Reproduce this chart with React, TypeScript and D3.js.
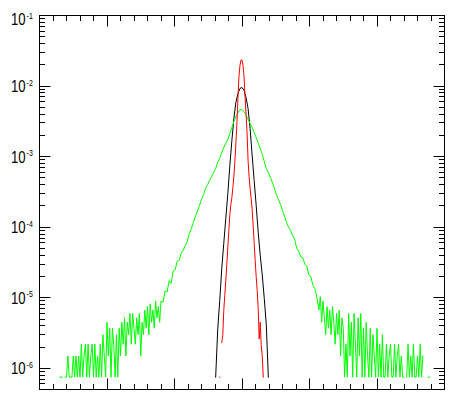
import React from "react";
import * as d3 from "d3";

const W = 463;
const H = 405;
const plotLeft = 39.5;
const plotRight = 444.5;
const plotTop = 15.5;
const plotBottom = 389.5;

const xDomain: [number, number] = [-3, 3];
const yDomain: [number, number] = [Math.pow(10, -6.3), 0.1];
const yDecades = [-6, -5, -4, -3, -2, -1];
const yDecadeLabels = ["-6", "-5", "-4", "-3", "-2", "-1"];

// Green series (widest distribution): left tail, core, right tail
const greenLeftStart = -2.7;
const greenTailStep = 0.02;
const greenLeftTail: (number | null)[] = [
  7.5e-7, 7.5e-7, 7.5e-7, null, 7.5e-7, 7.5e-7, 1.5e-6, 7.5e-7, 7.5e-7, 7.5e-7,
  1.5e-6, 7.5e-7, 1.5e-6, 7.5e-7, 1.5e-6, 7.5e-7, 2.2e-6, 7.5e-7, 1.5e-6, 2.2e-6,
  7.5e-7, 2.2e-6, 7.5e-7, 1.5e-6, 2.2e-6, 7.5e-7, 2.2e-6, 7.5e-7, 1.5e-6, 7.5e-7,
  2.2e-6, 7.5e-7, 3e-6, 1.5e-6, 7.5e-7, 4.5e-6, 1.5e-6, 3.7e-6, 7.5e-7, 3.7e-6,
  2.2e-6, 7.5e-7, 3e-6, 7.5e-7, 3.7e-6, 1.5e-6, 4.5e-6, 2.2e-6, 5.2e-6, 1.5e-6,
  4.5e-6, 3e-6, 6e-6, 2.2e-6, 6e-6, 3.7e-6, 2.2e-6, 5.2e-6, 3e-6, 6e-6,
  1.5e-6, 4.5e-6, 3e-6, 6.7e-6, 3.7e-6, 7.5e-6, 3e-6, 8.2e-6, 4.5e-6, 6.7e-6,
  3.7e-6, 9e-6, 5.2e-6, 7.5e-6, 4.5e-6, 9e-6,
];

const greenCoreStart = -1.17;
const greenCoreStep = 0.03;
const greenCore: number[] = [
  8.6e-6, 1.25e-5, 1.2e-5, 1.75e-5, 1.6e-5, 2.4e-5, 2.5e-5, 3.3e-5, 3.4e-5, 4.3e-5,
  4.7e-5, 5.5e-5, 6.3e-5, 8.1e-5, 9.6e-5, 1.17e-4, 1.42e-4, 1.7e-4, 2.04e-4, 2.46e-4,
  2.9e-4, 3.55e-4, 4.0e-4, 4.6e-4, 5.2e-4, 6.0e-4, 6.8e-4, 8.3e-4, 9.4e-4, 1.15e-3,
  1.35e-3, 1.55e-3, 1.75e-3, 2.13e-3, 2.6e-3, 3.15e-3, 3.7e-3, 4.2e-3, 4.65e-3,
  4.6e-3, 4.35e-3, 3.85e-3, 3.38e-3, 2.95e-3, 2.6e-3, 2.2e-3, 1.87e-3, 1.55e-3, 1.31e-3,
  1.08e-3, 8.5e-4, 6.8e-4, 6.0e-4, 5.1e-4, 4.3e-4, 3.55e-4, 2.9e-4, 2.46e-4, 2.1e-4,
  1.73e-4, 1.42e-4, 1.17e-4, 1.0e-4, 9.0e-5, 7.6e-5, 6.8e-5, 5.0e-5, 4.6e-5, 3.8e-5,
  3.7e-5, 3.0e-5, 2.8e-5, 2.1e-5, 2.0e-5, 1.5e-5, 1.35e-5, 1.0e-5,
];

const greenRightStart = 1.14;
const greenRightTail: (number | null)[] = [
  6.7e-6, 1.04e-5, 4.5e-6, 9e-6, 5.2e-6, 3e-6, 7.5e-6, 3.7e-6, 6.7e-6, 3e-6,
  7.5e-6, 4.5e-6, 2.2e-6, 6e-6, 3e-6, 6.7e-6, 1.5e-6, 5.2e-6, 3.7e-6, 7.5e-7,
  2.2e-6, 7.5e-7, 6e-6, 1.5e-6, 4.5e-6, 7.5e-7, 6e-6, 2.2e-6, 7.5e-7, 5.2e-6,
  1.5e-6, 6e-6, 7.5e-7, 3.7e-6, 7.5e-7, 4.5e-6, 1.5e-6, 7.5e-7, 3.7e-6, 7.5e-7,
  3e-6, 1.5e-6, 7.5e-7, 3.7e-6, 7.5e-7, 2.2e-6, 7.5e-7, 3e-6, 7.5e-7, 7.5e-7,
  2.2e-6, 7.5e-7, 1.5e-6, 2.2e-6, 7.5e-7, 7.5e-7, 2.2e-6, 7.5e-7, 1.5e-6, 2.2e-6,
  7.5e-7, 1.5e-6, 7.5e-7, 7.5e-7, null, 7.5e-7, 2.2e-6, 7.5e-7, 1.5e-6, 7.5e-7,
  2.2e-6, 7.5e-7, 7.5e-7, 1.5e-6, 7.5e-7, 2.2e-6, 7.5e-7, 1.5e-6, null, null,
  null, 7.5e-7, 7.5e-7, null, null,
];

// Black series
const blackStart = -0.39;
const blackStep = 0.03;
const blackValues: (number | null)[] = [
  7.5e-7, 3.5e-6, 9.1e-6, 2.6e-5, 5.9e-5, 1.33e-4, 3.0e-4, 7.5e-4, 1.7e-3, 3.5e-3,
  5.9e-3, 7.85e-3, 9.25e-3, 9.55e-3, 8.7e-3, 6.9e-3, 4.8e-3, 2.5e-3, 1.05e-3, 4.6e-4,
  2.04e-4, 8.5e-5, 4.0e-5, 2.1e-5, 9.8e-6, 4.1e-6, 7.5e-7,
];

// Red series (narrowest distribution)
const redStart = -0.33;
const redStep = 0.015;
const redValues: (number | null)[] = [
  7.5e-7, null, 2.33e-6, 2.9e-6, 6.6e-6, 1.08e-5, 1.76e-5, 2.97e-5, 5.2e-5, 9.0e-5,
  1.51e-4, 2.1e-4, 2.64e-4, 3.66e-4, 5.25e-4, 8.8e-4, 1.59e-3, 3.05e-3, 6.67e-3, 1.37e-2,
  1.96e-2, 2.34e-2, 2.34e-2, 1.96e-2, 1.37e-2, 7.1e-3, 3.96e-3, 2.2e-3, 8.8e-4, 5.25e-4,
  3.55e-4, 2.57e-4, 1.79e-4, 1.07e-4, 6.1e-5, 3.39e-5, 2.0e-5, 1.27e-5, 7.1e-6, 2.6e-6,
  4.5e-6, 2.1e-6, 1.5e-6, 7.5e-7,
];

type Pt = { x: number; v: number | null };

function toPoints(start: number, step: number, vals: (number | null)[]): Pt[] {
  return vals.map((v, i) => ({ x: start + i * step, v }));
}

export default function App() {
  const x = d3.scaleLinear().domain(xDomain).range([plotLeft, plotRight]);
  const y = d3.scaleLog().domain(yDomain).range([plotBottom, plotTop]);

  const line = d3
    .line<Pt>()
    .defined((d) => d.v != null && (d.v as number) > 0)
    .x((d) => x(d.x))
    .y((d) => y(d.v as number));

  const greenPts = [
    ...toPoints(greenLeftStart, greenTailStep, greenLeftTail),
    ...toPoints(greenCoreStart, greenCoreStep, greenCore),
    ...toPoints(greenRightStart, greenTailStep, greenRightTail),
  ];

  const series = [
    { name: "black", color: "#000000", pts: toPoints(blackStart, blackStep, blackValues) },
    { name: "green", color: "#00ff00", pts: greenPts },
    { name: "red", color: "#ff0000", pts: toPoints(redStart, redStep, redValues) },
  ];

  const xMajor = d3.range(xDomain[0], xDomain[1] + 0.001, 1);
  const xMinor = d3
    .range(0, 31)
    .map((k) => xDomain[0] + k * 0.2)
    .filter((v) => Math.abs(v - Math.round(v)) > 1e-6);

  const yMinor: number[] = [];
  for (let e = -7; e <= -2; e++) {
    for (let k = 2; k <= 9; k++) {
      const v = k * Math.pow(10, e);
      if (v >= yDomain[0] && v <= yDomain[1]) yMinor.push(v);
    }
  }

  const snap = (v: number) => Math.round(v - 0.5) + 0.5;
  const majLen = 11;
  const minLen = 5.5;
  const fontFamily = "'Liberation Sans', Arial, Helvetica, sans-serif";

  return (
    <svg
      width={W}
      height={H}
      viewBox={`0 0 ${W} ${H}`}
      style={{ position: "absolute", left: 0, top: 0, background: "#fff" }}
    >
      <rect x={0} y={0} width={W} height={H} fill="#ffffff" />
      <defs>
        <clipPath id="plotclip">
          <rect x={plotLeft} y={plotTop} width={plotRight - plotLeft} height={plotBottom - plotTop} />
        </clipPath>
      </defs>
      <g clipPath="url(#plotclip)">
        {series.map((s) => (
          <path
            key={s.name}
            d={line(s.pts) || ""}
            fill="none"
            stroke={s.color}
            strokeWidth={1}
            strokeLinecap="square"
            strokeLinejoin="miter"
          />
        ))}
      </g>
      <g stroke="#000" strokeWidth={1} fill="none">
        <rect x={plotLeft} y={plotTop} width={plotRight - plotLeft} height={plotBottom - plotTop} />
        {xMajor.map((v) => {
          const px = snap(x(v));
          return (
            <g key={"xM" + v}>
              <line x1={px} x2={px} y1={plotBottom} y2={plotBottom - majLen} />
              <line x1={px} x2={px} y1={plotTop} y2={plotTop + majLen} />
            </g>
          );
        })}
        {xMinor.map((v) => {
          const px = snap(x(v));
          return (
            <g key={"xm" + v}>
              <line x1={px} x2={px} y1={plotBottom} y2={plotBottom - minLen} />
              <line x1={px} x2={px} y1={plotTop} y2={plotTop + minLen} />
            </g>
          );
        })}
        {yDecades.map((e) => {
          const py = snap(y(Math.pow(10, e)));
          return (
            <g key={"yM" + e}>
              <line x1={plotLeft} x2={plotLeft + majLen} y1={py} y2={py} />
              <line x1={plotRight} x2={plotRight - majLen} y1={py} y2={py} />
            </g>
          );
        })}
        {yMinor.map((v, i) => {
          const py = snap(y(v));
          return (
            <g key={"ym" + i}>
              <line x1={plotLeft} x2={plotLeft + minLen} y1={py} y2={py} />
              <line x1={plotRight} x2={plotRight - minLen} y1={py} y2={py} />
            </g>
          );
        })}
      </g>
      <g fill="#000" fontFamily={fontFamily}>
        {yDecades.map((e, i) => {
          const py = y(Math.pow(10, e));
          const base = Math.max(py + 6, 25);
          return (
            <text key={"lab" + e} transform={`translate(11,${base}) scale(0.82,1)`} fontSize={16}>
              <tspan>10</tspan>
              <tspan fontSize={8.5} dx={1.2} dy={-6.5}>
                {yDecadeLabels[i]}
              </tspan>
            </text>
          );
        })}
      </g>
    </svg>
  );
}
